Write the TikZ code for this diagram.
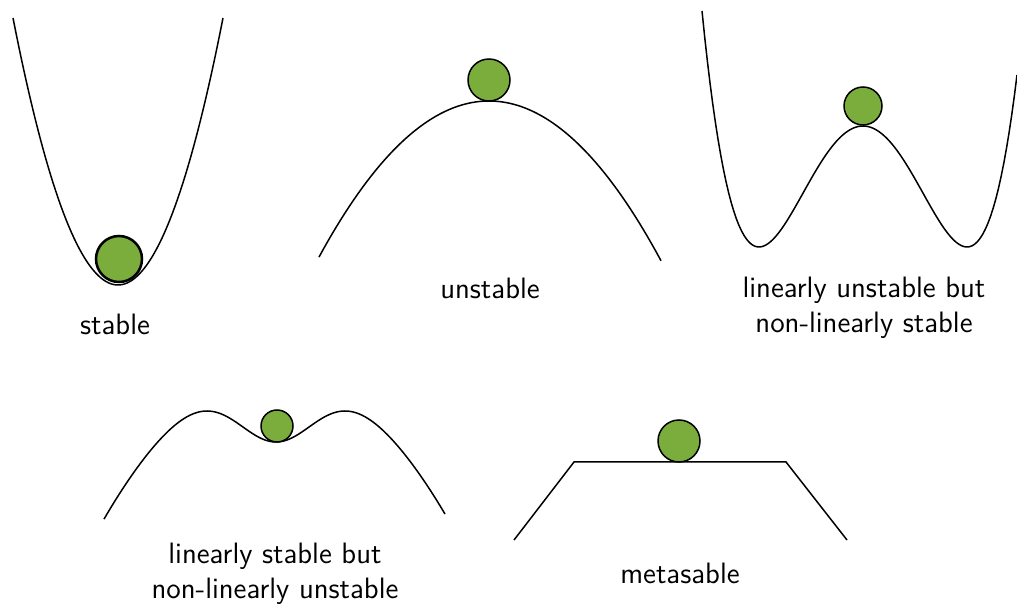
\documentclass[tikz,border=0pt]{standalone}
\usepackage{amsmath}
\usepackage{tikz}
\definecolor{ballgreen}{RGB}{122,173,60}

\begin{document}
\begin{tikzpicture}[x=0.4pt, y=-0.4pt, curve/.style = {draw, line width=0.6pt},
      ball/.style = {draw, circle, fill=ballgreen, inner sep=0pt, line width=0.6pt},
      caption/.style = {align=center, font=\sffamily\fontsize{11.8}{14}\selectfont}]
      \useasboundingbox (0,0) rectangle (1017,610);
      % stable
      \draw[curve] plot[domain=13:223, samples=80] (\x, {285 - 242.2*((\x-118)/100)^2});
      \node[ball, minimum size=46*0.4pt, line width=1pt] (b1) at (119,259) {};
      \node[caption] (l1) at (115,324) {stable};
      % unstable
      \draw[curve] plot[domain=319:661, samples=80] (\x, {101 + 54*((\x-489)/100)^2});
      \node[ball, minimum size=42*0.4pt] (b2) at (489,80) {};
      \node[caption] (l2) at (490,288) {unstable};
      % double well
      \draw[curve] plot[domain=702:1017, samples=120] (\x, {126 + 121*(2*((\x-863)/104)^2 - ((\x-863)/104)^4)});
      \node[ball, minimum size=38*0.4pt] (b3) at (863,106) {};
      \node[caption] (l3) at (864,308) {linearly unstable but\\non-linearly stable};
      % double hump
      \draw[curve] plot[domain=104:445, samples=120] (\x, {371.2 + 50*((\x-276)/100)^2 + 70.8*exp(-((\x-276)/40)^2/2)});
      \node[ball, minimum size=32*0.4pt] (b4) at (277,426) {};
      \node[caption] (l4) at (275,574) {linearly stable but\\non-linearly unstable};
      % plateau
      \coordinate (p1) at (514,540);
      \coordinate (p2) at (574,462);
      \coordinate (p3) at (786,462);
      \coordinate (p4) at (847,540);
      \draw[curve] (p1) -- (p2) -- (p3) -- (p4);
      \node[ball, minimum size=42*0.4pt] (b5) at (679,441) {};
      \node[caption] (l5) at (680,573) {metasable};
    \end{tikzpicture}
\end{document}
